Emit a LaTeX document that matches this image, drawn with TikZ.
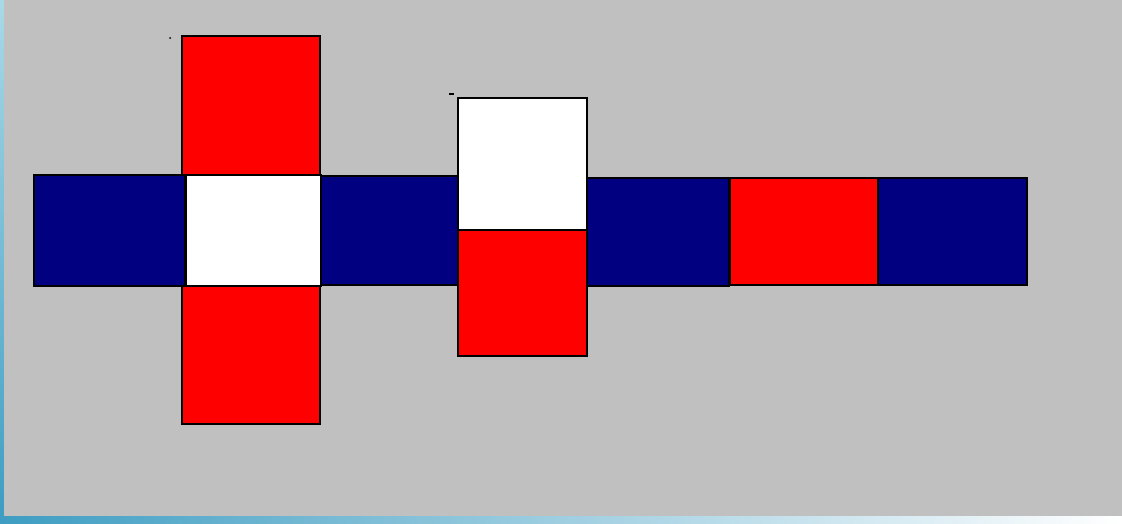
\documentclass[tikz,border=0pt]{standalone}
\usepackage{tikz}
\usetikzlibrary{positioning}
\definecolor{panelgrey}{HTML}{C0C0C0}
\definecolor{navyface}{HTML}{000080}
\definecolor{redface}{HTML}{FF0000}
\definecolor{frameblue}{HTML}{3E9DC2}
\definecolor{framelight}{HTML}{A9D9E8}
\begin{document}
\begin{tikzpicture}[
      x=1pt, y=-1pt,
      face/.style={draw=black, line width=1.2pt, inner sep=0pt, outer sep=0pt, anchor=north west},
      blueface/.style={face, fill=navyface},
      redface/.style={face, fill=redface},
      whiteface/.style={face, fill=white}
    ]
    \useasboundingbox (0,0) rectangle (1122,524);
    % window frame and grey panel
    \fill[left color=frameblue, right color=white] (0,516) rectangle (1122,524);
    \fill[top color=framelight, bottom color=frameblue] (0,0) rectangle (4,516);
    \fill[panelgrey] (4,0) rectangle (1122,516);
    % first cross: red / white / red column
    \node[redface, minimum width=138pt, minimum height=139pt] (rtop) at (182,36) {};
    \node[redface, minimum width=138pt, minimum height=138pt] (rbot) at (182,286) {};
    % strip of faces
    \foreach \nm/\st/\xa/\ya/\w/\h in {b1/blueface/34/175/151/111, b2/blueface/320/176/141/109,
        b3/blueface/587/178/142/108, r4/redface/730/178/148/107, b5/blueface/878/178/149/107}{
      \node[\st, minimum width=\w pt, minimum height=\h pt] (\nm) at (\xa,\ya) {};
    }
    \node[whiteface, minimum width=136pt, minimum height=111pt] (wc) at (185,175) {};
    \draw[line width=3pt] (wc.north west) -- (wc.south west);
    % second column: white over red
    \node[whiteface, minimum width=129pt, minimum height=132pt] (wtop) at (458,98) {};
    \node[redface, minimum width=129pt, minimum height=126pt] (rmid) at (458,230) {};
    % stray marks
    \fill (170,38) circle (1pt);
    \fill (449,93) rectangle (454,95);
  \end{tikzpicture}
\end{document}
